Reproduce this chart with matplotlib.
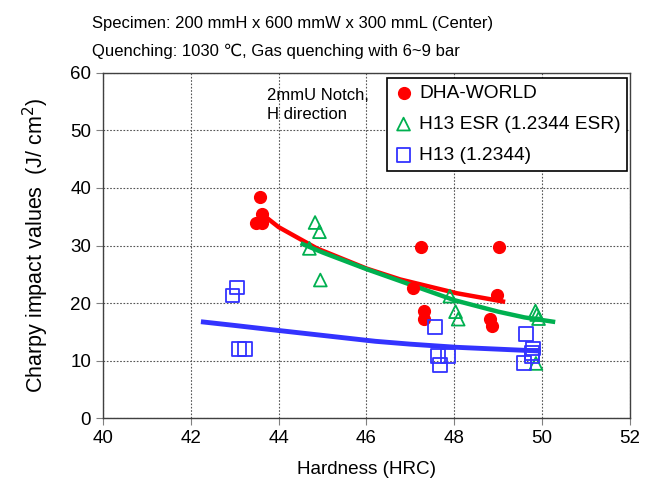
import matplotlib
matplotlib.use("Agg")
import matplotlib.pyplot as plt

plt.rcParams['font.family'] = ['Liberation Sans', 'DejaVu Sans']

# measured points (hardness HRC, Charpy J/cm2)
dha_hrc = [43.58, 43.61, 43.49, 43.62, 47.25, 49.02, 47.07, 48.98, 47.32, 47.32, 48.82, 48.86]
dha_cvn = [38.4, 35.5, 34.0, 34.0, 29.7, 29.7, 22.7, 21.4, 18.7, 17.3, 17.3, 16.0]

esr_hrc = [44.83, 44.93, 44.70, 44.95, 47.90, 48.03, 48.09, 49.85, 49.88, 49.92, 49.86]
esr_cvn = [34.0, 32.4, 29.5, 24.0, 21.2, 18.5, 17.2, 18.6, 18.0, 17.3, 9.5]

h13_hrc = [43.06, 42.95, 43.10, 43.24, 47.56, 47.62, 47.86, 47.68, 49.64, 49.80, 49.77, 49.59, 49.78]
h13_cvn = [22.7, 21.3, 12.0, 12.0, 15.9, 10.8, 10.8, 9.3, 14.6, 12.1, 10.8, 9.5, 11.3]

# trend lines
dha_trend_x = [43.65, 44.0, 44.87, 46.0, 46.77, 48.06, 49.16]
dha_trend_y = [35.3, 33.2, 29.5, 26.0, 24.1, 21.7, 20.2]
esr_trend_x = [44.5, 45.0, 46.0, 47.0, 48.0, 49.0, 49.6, 50.3]
esr_trend_y = [30.4, 28.8, 25.9, 23.2, 20.5, 18.5, 17.5, 16.7]
h13_trend_x = [42.23, 43.0, 44.03, 46.2, 47.0, 48.06, 49.97]
h13_trend_y = [16.75, 16.1, 15.2, 13.35, 12.85, 12.3, 11.65]

red = '#FF0000'
green = '#00B050'
blue = '#3333FF'

fig = plt.figure(figsize=(6.5, 4.93), dpi=100)
ax = fig.add_axes([0.1585, 0.152, 0.8105, 0.70])

ax.plot(dha_trend_x, dha_trend_y, color=red, lw=3.2, zorder=3, solid_capstyle='butt')
ax.plot(esr_trend_x, esr_trend_y, color=green, lw=3.2, zorder=3, solid_capstyle='butt')
ax.plot(h13_trend_x, h13_trend_y, color=blue, lw=3.5, zorder=3, solid_capstyle='butt')

ax.scatter(dha_hrc, dha_cvn, s=72, marker='o', color=red, zorder=4, label='DHA-WORLD')
ax.scatter(esr_hrc, esr_cvn, s=85, marker='^', facecolors='none', edgecolors=green,
           linewidths=1.3, zorder=4, label='H13 ESR (1.2344 ESR)')
ax.scatter(h13_hrc, h13_cvn, s=100, marker='s', facecolors='none', edgecolors=blue,
           linewidths=1.3, zorder=4, label='H13 (1.2344)')

ax.set_xlim(40, 52)
ax.set_ylim(0, 60)
ax.set_xticks(range(40, 53, 2))
ax.set_yticks(range(0, 61, 10))
ax.tick_params(labelsize=13.5, length=5, color='#808080')
ax.grid(True, color='#555555', linestyle=(0, (1.5, 1.5)), lw=0.8)
for s in ax.spines.values():
    s.set_color('#404040')
    s.set_linewidth(1.0)

ax.set_xlabel('Hardness (HRC)', fontsize=13.6, labelpad=10)
ax.set_ylabel('Charpy impact values  (J/ cm$^2$)', fontsize=15.5, labelpad=14)

ax.text(0.311, 0.955, '2mmU Notch,\nH direction', transform=ax.transAxes,
        fontsize=12, va='top', ha='left', linespacing=1.3)

leg = ax.legend(loc='upper right', bbox_to_anchor=(0.995, 0.985), borderaxespad=0,
                fontsize=13.8, frameon=True, fancybox=False, edgecolor='black', framealpha=1,
                handletextpad=0.3, handlelength=1.0, labelspacing=0.7, borderpad=0.35)
leg.get_frame().set_linewidth(1.2)

fig.text(0.1415, 0.952, 'Specimen: 200 mmH x 600 mmW x 300 mmL (Center)', fontsize=12, va='center')
fig.text(0.1415, 0.896, 'Quenching: 1030 \u2103, Gas quenching with 6~9 bar', fontsize=12, va='center')

fig.savefig('out.png', dpi=100)
